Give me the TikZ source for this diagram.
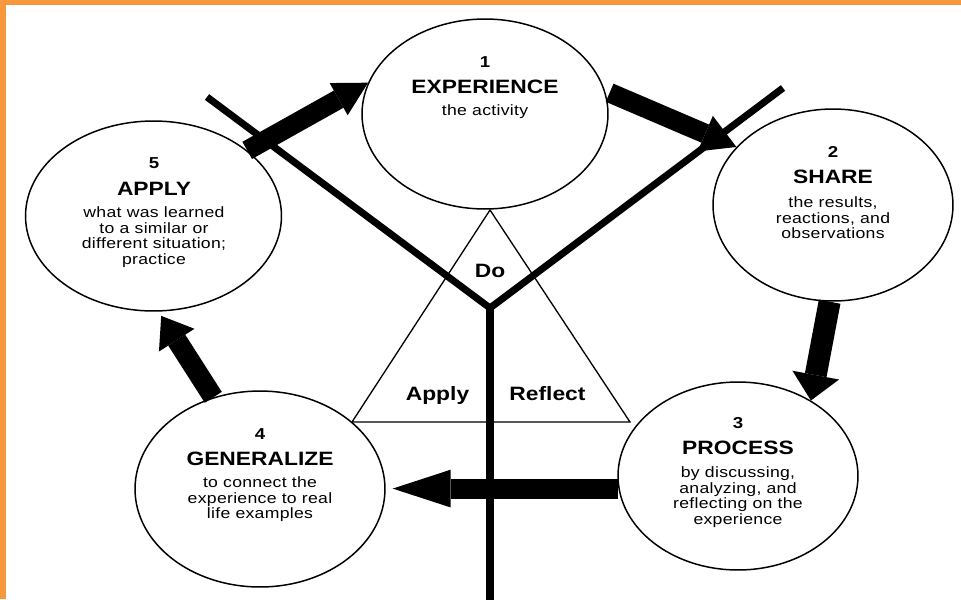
\documentclass[tikz,border=0pt]{standalone}
\usepackage{fontspec}
\setmainfont{Liberation Sans}[FakeStretch=1.18]
\newfontfamily\bodyf{Liberation Sans}[FakeStretch=1.18,LetterSpace=2]
\usetikzlibrary{shapes.geometric,arrows.meta,calc}
\definecolor{frameorange}{RGB}{247,152,61}
\tikzset{
  stage/.style={ellipse, draw, line width=0.85pt, fill=white, inner sep=0pt},
  numtxt/.style={font=\fontsize{9}{10}\selectfont\bfseries, anchor=base, inner sep=0pt},
  ttltxt/.style={font=\fontsize{11}{12}\selectfont\bfseries, anchor=base, inner sep=0pt},
  bodytxt/.style={font=\bodyf\fontsize{8.5}{8.9}\selectfont, align=center, anchor=north, inner sep=0pt},
  ybar/.style={line width=4pt},
  triline/.style={line width=0.75pt},
  blockarrow/.style n args={3}{line width=#1, -{Triangle[length=#2, width=#3, line width=0pt]}},
}
\begin{document}
\begin{tikzpicture}[x=0.02cm,y=-0.02cm]
\useasboundingbox (0,0) rectangle (961,599);
\fill[white] (0,0) rectangle (961,599);
\fill[frameorange] (0,0) rectangle (961,5);
\fill[frameorange] (0,0) rectangle (6,599);

% Y lines
\coordinate (yl) at (207,97);
\coordinate (yr) at (783,88);
\coordinate (yj) at (490,308);
\coordinate (yb) at (490,605);
\draw[ybar, line join=miter] (yl) -- (yj) -- (yr);
\draw[ybar] (yj) -- (yb);

% triangle
\coordinate (ta) at (490,210);
\coordinate (tl) at (352,422);
\coordinate (tr) at (630,422);
\draw[triline] (ta) -- (tl) -- (tr) -- cycle;
\node[ttltxt] (ldo) at (490,277) {Do};
\node[ttltxt] (lapply) at (437.5,400) {Apply};
\node[ttltxt] (lreflect) at (547.5,400) {Reflect};

% stages
\node[stage, minimum width=4.92cm, minimum height=3.8cm] (e1) at (485,114) {};
\node[stage, minimum width=4.8cm, minimum height=3.84cm] (e2) at (833,205) {};
\node[stage, minimum width=4.8cm, minimum height=3.76cm] (e3) at (738,476) {};
\node[stage, minimum width=5.0cm, minimum height=3.92cm] (e4) at (260,489) {};
\node[stage, minimum width=5.12cm, minimum height=3.8cm] (e5) at (153.5,216) {};

% texts
\node[numtxt] (n1) at (485,67) {1};
\node[ttltxt] (h1) at (485,93) {EXPERIENCE};
\node[bodytxt] (b1) at (485,104.3) {the activity};

\node[numtxt] (n2) at (833,157) {2};
\node[ttltxt] (h2) at (833,183) {SHARE};
\node[bodytxt] (b2) at (833,196.3) {the results,\\reactions, and\\observations};

\node[numtxt] (n3) at (738,428) {3};
\node[ttltxt] (h3) at (738,454) {PROCESS};
\node[bodytxt] (b3) at (738,466.3) {by discussing,\\analyzing, and\\reflecting on the\\experience};

\node[numtxt] (n4) at (260,439) {4};
\node[ttltxt] (h4) at (260,465) {GENERALIZE};
\node[bodytxt] (b4) at (260,476.3) {to connect the\\experience to real\\life examples};

\node[numtxt] (n5) at (154,168) {5};
\node[ttltxt] (h5) at (154,195) {APPLY};
\node[bodytxt] (b5) at (154,206.3) {what was learned\\to a similar or\\different situation;\\practice};

% block arrows
\draw[blockarrow={11.2pt}{19.2pt}{21pt}] (e5.35) -- (e1.165);
\draw[blockarrow={11.2pt}{19.3pt}{22pt}] ($(e1.10)+(4,0)$) -- (e2.149);
\draw[blockarrow={12.5pt}{14.7pt}{27pt}] (e2.268) -- (e3.46);
\draw[blockarrow={11.3pt}{33pt}{21.5pt}] (e3.186) -- ($(e3.186 -| e4.east)+(7,0)$);
\draw[blockarrow={11.5pt}{16.4pt}{24pt}, shorten >=0.1cm] (e4.117) -- (e5.273);
\end{tikzpicture}
\end{document}
